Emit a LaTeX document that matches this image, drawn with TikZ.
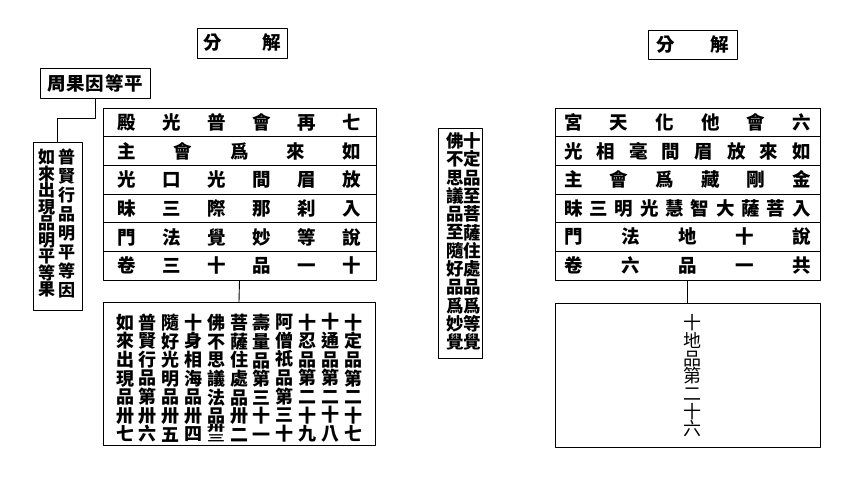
\documentclass[tikz,border=0pt]{standalone}
\usepackage{fontspec}
\usepackage{graphicx}
\setmainfont{Noto Sans CJK TC}
\usetikzlibrary{positioning}

\tikzset{
  box/.style={draw, line width=0.9pt, inner sep=0pt},
  tabrow/.style={box, minimum height=28.67pt},
  zi/.style={font=\bfseries\fontsize{18.5}{18.6}\selectfont, inner sep=0pt, align=center},
  col/.style={zi, font=\bfseries\fontsize{18}{18.6}\selectfont},
}
\newcommand{\zirow}[2]{\hbox to #1{#2}}
\newcommand{\zipair}[2]{\scalebox{1}[0.5]{\shortstack{#1\\#2}}}

\begin{document}
\begin{tikzpicture}[line cap=round, line join=round, x=1pt, y=-1pt]
                \useasboundingbox (0,0) rectangle (862,483);

                % left half
                \node[box, minimum width=90pt, minimum height=30pt, zi] (lhead) at (242,43) {\zirow{78pt}{分\hfill 解}};
                \node[box, minimum width=110pt, minimum height=30pt, zi] (cause) at (95,83) {\zirow{96pt}{周\hfill 果\hfill 因\hfill 等\hfill 平}};

                \foreach \t [count=\i] in {{殿\hfill 光\hfill 普\hfill 會\hfill 再\hfill 七},
                                           {主\hfill 會\hfill 爲\hfill 來\hfill 如},
                                           {光\hfill 口\hfill 光\hfill 間\hfill 眉\hfill 放},
                                           {昧\hfill 三\hfill 際\hfill 那\hfill 刹\hfill 入},
                                           {門\hfill 法\hfill 覺\hfill 妙\hfill 等\hfill 說},
                                           {卷\hfill 三\hfill 十\hfill 品\hfill 一\hfill 十}}
                    \node[tabrow, minimum width=273pt, zi] (l\i) at (239.5, {93.67+\i*28.67}) {\zirow{243.5pt}{\t}};

                \node[box, minimum width=272pt, minimum height=143pt] (lbox) at (239,373.5) {};
                \foreach \t [count=\i] in {{十\\定\\品\\第\\二\\十\\七},
                                           {十\\通\\品\\第\\二\\十\\八},
                                           {十\\忍\\品\\第\\二\\十\\九},
                                           {阿\\僧\\祇\\品\\第\\三\\十},
                                           {壽\\量\\品\\第\\三\\十\\一},
                                           {菩\\薩\\住\\處\\品\\卅\\二},
                                           {佛\\不\\思\\議\\法\\品\\\zipair{卅}{三}},
                                           {十\\身\\相\\海\\品\\卅\\四},
                                           {隨\\好\\光\\明\\品\\卅\\五},
                                           {普\\賢\\行\\品\\第\\卅\\六},
                                           {如\\來\\出\\現\\品\\卅\\七}}
                    \node[col] (lc\i) at ({353-(\i-1)*22.8}, 378) {\t};

                \node[box, minimum width=49pt, minimum height=168pt] (lside) at (57.5,226) {};
                \node[zi, font=\bfseries\fontsize{17}{18.9}\selectfont] (lsr) at (66.5,223.5) {普\\賢\\行\\品\\明\\平\\等\\因};
                \node[zi, font=\bfseries\fontsize{17}{16.5}\selectfont] (lsl) at (46.5,223.5) {如\\來\\出\\現\\品\\明\\平\\等\\果};

                \draw[line width=0.9pt] (cause.south) -- ++(0,20) -| (lside.north);
                \draw[line width=0.9pt] (l6.south) -- (lbox.north);

                % middle
                \node[box, minimum width=44pt, minimum height=230pt] (mid) at (460,243) {};
                \node[zi, font=\bfseries\fontsize{17.5}{18.3}\selectfont] (midr) at (472.5,241.5) {十\\定\\品\\至\\菩\\薩\\住\\處\\品\\爲\\等\\覺};
                \node[zi, font=\bfseries\fontsize{17.5}{18.3}\selectfont] (midl) at (455,241.5) {佛\\不\\思\\議\\品\\至\\隨\\好\\品\\爲\\妙\\覺};

                % right half
                \node[box, minimum width=89pt, minimum height=29pt, zi] (rhead) at (692.5,44.5) {\zirow{73pt}{分\hfill 解}};

                \foreach \t [count=\i] in {{宮\hfill 天\hfill 化\hfill 他\hfill 會\hfill 六},
                                           {光\hfill 相\hfill 毫\hfill 間\hfill 眉\hfill 放\hfill 來\hfill 如},
                                           {主\hfill 會\hfill 爲\hfill 藏\hfill 剛\hfill 金},
                                           {昧\hfill 三\hfill 明\hfill 光\hfill 慧\hfill 智\hfill 大\hfill 薩\hfill 菩\hfill 入},
                                           {門\hfill 法\hfill 地\hfill 十\hfill 說},
                                           {卷\hfill 六\hfill 品\hfill 一\hfill 共}}
                    \node[tabrow, minimum width=265pt, zi] (r\i) at (687.5, {93.67+\i*28.67}) {\zirow{246.5pt}{\t}};

                \node[box, minimum width=265pt, minimum height=144pt] (rbox) at (687.5,375) {};
                \node[zi, font=\fontsize{18}{17.7}\selectfont] (rc) at (692,376) {十\\地\\品\\第\\二\\十\\六};

                \draw[line width=0.9pt] (r6.south) -- (rbox.north);

            \end{tikzpicture}
\end{document}
